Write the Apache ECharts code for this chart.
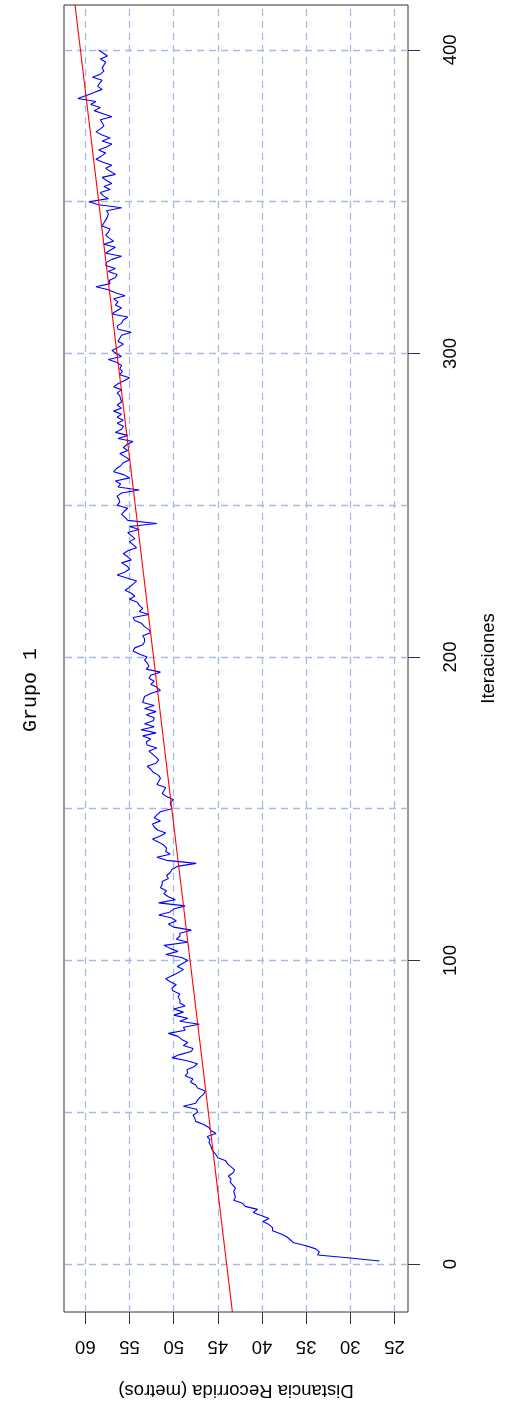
<!DOCTYPE html>
<html>
<head>
<meta charset="utf-8">
<script src="https://cdn.jsdelivr.net/npm/echarts@6/dist/echarts.min.js"></script>
<style>
  html, body { margin: 0; padding: 0; background: #ffffff; }
  #chart { width: 506px; height: 1410px; }
</style>
</head>
<body>
<div id="chart"></div>
<script>
// Distance covered per iteration (iterations 1..400), metres
const distancia = [
  26.7, 30.0, 33.7, 33.5, 33.9, 35.0, 36.4, 36.8, 37.2, 37.9,
  38.8, 38.8, 39.2, 39.9, 39.2, 40.1, 41.0, 40.5, 41.9, 42.2,
  43.2, 43.0, 43.1, 43.2, 43.0, 43.3, 43.6, 43.5, 43.8, 43.3,
  43.1, 43.5, 43.9, 44.1, 45.0, 45.2, 45.5, 45.7, 45.8, 46.0,
  45.9, 46.2, 45.2, 45.8, 46.0, 46.6, 47.5, 47.6, 47.8, 47.3,
  47.4, 48.9, 47.5, 47.3, 47.0, 46.6, 46.4, 47.3, 47.5, 48.1,
  47.8, 48.7, 48.4, 48.5, 47.7, 47.3, 48.5, 50.2, 49.3, 48.0,
  47.8, 48.9, 48.4, 49.1, 49.5, 50.6, 48.7, 48.9, 47.1, 49.3,
  48.4, 50.0, 48.9, 50.0, 48.7, 49.3, 49.3, 49.5, 49.3, 50.1,
  50.2, 49.7, 50.4, 50.9, 50.2, 49.5, 48.9, 49.6, 49.0, 48.4,
  49.1, 50.9, 49.5, 50.4, 51.1, 48.4, 49.7, 49.3, 49.3, 48.0,
  50.0, 50.6, 49.7, 50.2, 51.7, 50.4, 50.0, 48.7, 51.7, 49.8,
  50.6, 51.1, 50.8, 51.5, 51.3, 51.3, 50.6, 50.8, 50.4, 50.2,
  49.6, 47.45, 50.8, 51.9, 50.4, 50.9, 50.8, 51.1, 51.7, 52.4,
  51.5, 50.9, 51.8, 52.2, 52.4, 51.5, 52.2, 51.9, 51.5, 50.2,
  50.3, 50.4, 50.0, 50.8, 51.3, 51.1, 50.9, 51.9, 51.7, 51.5,
  51.7, 52.3, 52.6, 53.0, 52.0, 51.7, 52.0, 52.4, 52.8, 51.9,
  53.0, 53.1, 52.6, 53.5, 52.0, 53.7, 52.2, 53.3, 52.3, 52.2,
  53.1, 52.0, 53.3, 52.2, 53.5, 53.4, 53.3, 52.6, 51.5, 51.9,
  52.6, 52.2, 52.8, 52.6, 51.5, 53.1, 52.8, 53.0, 53.3, 53.0,
  53.9, 54.6, 54.4, 53.5, 53.3, 53.3, 53.5, 52.6, 52.8, 53.3,
  53.6, 54.4, 54.6, 52.8, 53.9, 53.5, 53.9, 54.1, 55.0, 54.4,
  54.8, 55.5, 55.0, 54.6, 54.2, 55.3, 56.4, 55.5, 55.0, 55.3,
  55.9, 54.8, 55.2, 55.7, 55.2, 54.2, 54.6, 55.0, 54.4, 54.8,
  55.2, 53.9, 55.0, 51.9, 55.2, 55.5, 55.9, 55.6, 55.2, 56.4,
  56.1, 56.2, 56.4, 55.9, 53.9, 56.3, 56.0, 56.6, 55.0, 55.6,
  56.8, 56.5, 56.0, 55.7, 55.0, 55.5, 56.1, 55.2, 55.7, 55.3,
  54.6, 56.3, 55.2, 56.6, 55.9, 55.7, 56.4, 55.7, 56.4, 55.9,
  56.8, 55.9, 56.4, 55.9, 56.0, 56.1, 56.4, 55.9, 56.8, 56.3,
  55.6, 55.0, 56.1, 55.8, 56.1, 55.9, 56.4, 57.4, 55.9, 56.5,
  57.0, 56.3, 55.7, 56.3, 56.1, 55.9, 54.8, 56.3, 56.4, 55.9,
  55.7, 55.2, 57.0, 56.5, 55.9, 56.6, 56.3, 56.8, 55.5, 56.6,
  57.4, 58.8, 57.2, 57.3, 56.6, 56.4, 57.4, 56.6, 57.7, 57.6,
  57.0, 55.9, 57.7, 57.2, 56.6, 57.9, 56.8, 57.3, 57.7, 57.4,
  57.2, 58.1, 57.9, 57.7, 57.5, 57.4, 57.6, 55.9, 58.5, 59.6,
  57.4, 58.0, 58.3, 57.2, 57.9, 57.0, 57.6, 58.1, 56.6, 57.2,
  57.7, 57.0, 58.0, 58.8, 58.2, 57.7, 58.5, 57.6, 57.0, 58.1,
  57.2, 58.1, 58.8, 58.3, 57.9, 58.1, 58.3, 57.0, 58.0, 59.0,
  58.3, 59.4, 58.8, 60.85, 59.9, 59.0, 58.1, 58.6, 58.4, 58.1,
  59.2, 58.3, 57.9, 58.1, 57.9, 57.7, 58.3, 57.5, 58.0, 58.5
];

// Linear fit of distance on iteration
const fitIntercept = 44.0;
const fitSlope = 0.0414;

// Tick labels and reference grid
const distTicks = [25, 30, 35, 40, 45, 50, 55, 60];
const iterTicks = [0, 100, 200, 300, 400];
const distGrid = [25, 30, 35, 40, 45, 50, 55, 60];
const iterGrid = [0, 50, 100, 150, 200, 250, 300, 350, 400];

// Plot region limits
const distMin = 23.46, distMax = 62.42;
const iterMin = -15.8, iterMax = 414.8;

const points = distancia.map((v, i) => [v, i + 1]);
const fitPoints = [
  [fitIntercept + fitSlope * iterMin, iterMin],
  [fitIntercept + fitSlope * iterMax, iterMax]
];

const font = 'Liberation Sans, Arial, Helvetica, sans-serif';
const chart = echarts.init(document.getElementById('chart'), null, { renderer: 'canvas' });

chart.setOption({
  animation: false,
  backgroundColor: '#ffffff',
  grid: {
    left: 64, right: 88, top: 5, bottom: 98,
    show: true, borderColor: '#333333', borderWidth: 1, backgroundColor: 'transparent'
  },
  xAxis: {
    type: 'value',
    inverse: true,
    position: 'bottom',
    min: distMin, max: distMax,
    axisLine: { show: false, onZero: false },
    splitLine: { show: false },
    axisTick: {
      show: true, inside: false, length: 12,
      customValues: distTicks,
      lineStyle: { color: '#333333', width: 1 }
    },
    axisLabel: {
      show: true, rotate: 180, margin: 25,
      customValues: distTicks,
      color: '#000000', fontFamily: font, fontSize: 18.5
    },
    name: 'Distancia Recorrida (metros)',
    nameLocation: 'middle',
    nameRotate: 180,
    nameGap: 69,
    nameTextStyle: { color: '#000000', fontFamily: font, fontSize: 18.5 }
  },
  yAxis: {
    type: 'value',
    position: 'right',
    min: iterMin, max: iterMax,
    axisLine: { show: false, onZero: false },
    splitLine: { show: false },
    axisTick: {
      show: true, inside: false, length: 12,
      customValues: iterTicks,
      lineStyle: { color: '#333333', width: 1 }
    },
    axisLabel: {
      show: true, rotate: 90, margin: 33,
      customValues: iterTicks,
      color: '#000000', fontFamily: font, fontSize: 18.5
    },
    name: 'Iteraciones',
    nameLocation: 'middle',
    nameRotate: 90,
    nameGap: 71,
    nameTextStyle: { color: '#000000', fontFamily: font, fontSize: 18.5 }
  },
  graphic: [{
    type: 'text',
    x: 31, y: 690,
    rotation: Math.PI / 2,
    style: {
      text: 'Grupo 1',
      fontFamily: 'Liberation Mono, Courier New, monospace',
      fontSize: 20,
      fill: '#000000',
      textAlign: 'center',
      textVerticalAlign: 'middle'
    }
  }],
  series: [
    {
      // dashed reference grid
      type: 'line',
      data: [],
      silent: true,
      z: 1,
      markLine: {
        silent: true,
        z: 1,
        symbol: ['none', 'none'],
        label: { show: false },
        emphasis: { disabled: true },
        lineStyle: { color: '#a7bbe2', width: 1.3, type: [7, 5] },
        data: [
          ...distGrid.map(v => ({ xAxis: v })),
          ...iterGrid.map(v => ({ yAxis: v }))
        ]
      }
    },
    {
      type: 'line',
      data: points,
      showSymbol: false,
      symbol: 'none',
      z: 3,
      lineStyle: { color: '#0000ff', width: 1.1 },
      emphasis: { disabled: true }
    },
    {
      type: 'line',
      data: fitPoints,
      showSymbol: false,
      symbol: 'none',
      clip: true,
      z: 4,
      lineStyle: { color: '#ff0000', width: 1.1 },
      emphasis: { disabled: true }
    }
  ]
});
</script>
</body>
</html>
